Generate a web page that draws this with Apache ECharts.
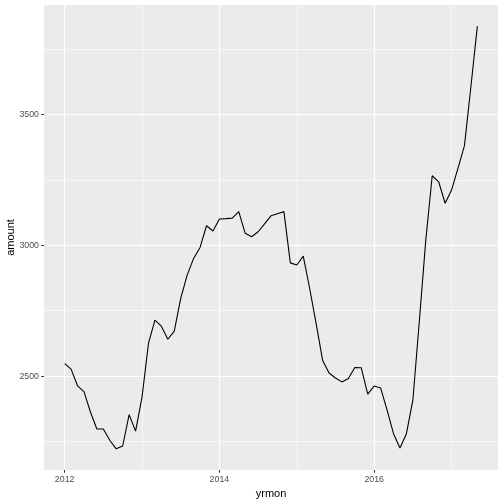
<!DOCTYPE html>
<html>
<head>
<meta charset="utf-8">
<script src="https://cdn.jsdelivr.net/npm/echarts@6/dist/echarts.min.js"></script>
<style>html,body{margin:0;padding:0;background:#fff}#c{width:504px;height:504px}</style>
</head>
<body>
<div id="c"></div>
<script>
// Months (yearmon) Jan 2012 .. May 2017
var months = [
 "2012-01","2012-02","2012-03","2012-04","2012-05","2012-06","2012-07","2012-08","2012-09","2012-10","2012-11","2012-12",
 "2013-01","2013-02","2013-03","2013-04","2013-05","2013-06","2013-07","2013-08","2013-09","2013-10","2013-11","2013-12",
 "2014-01","2014-02","2014-03","2014-04","2014-05","2014-06","2014-07","2014-08","2014-09","2014-10","2014-11","2014-12",
 "2015-01","2015-02","2015-03","2015-04","2015-05","2015-06","2015-07","2015-08","2015-09","2015-10","2015-11","2015-12",
 "2016-01","2016-02","2016-03","2016-04","2016-05","2016-06","2016-07","2016-08","2016-09","2016-10","2016-11","2016-12",
 "2017-01","2017-02","2017-03","2017-04","2017-05"
];
var amount = [
 2548,2527,2463,2441,2363,2298,2298,2255,2222,2233,2353,2290,
 2420,2625,2714,2691,2641,2672,2797,2886,2950,2992,3075,3055,
 3101,3102,3104,3129,3046,3033,3052,3082,3113,3121,3129,2933,
 2925,2959,2835,2701,2561,2512,2493,2478,2491,2533,2532,2431,
 2462,2455,2370,2280,2225,2280,2408,2710,3020,3266,3243,3161,
 3212,3295,3381,3607,3838
];
var xTicks = [2012, 2014, 2016];
var xMinor = [2013, 2015, 2017];
var yTicks = [2500, 3000, 3500];
var yMinor = [2250, 2750, 3250, 3750];

function toYear(s){ var p = s.split('-'); return +p[0] + (+p[1] - 1) / 12; }
var pts = months.map(function(m, i){ return [toYear(m), amount[i]]; });

var xs = pts.map(function(p){return p[0];});
var xLo = Math.min.apply(null, xs), xHi = Math.max.apply(null, xs);
var yLo = Math.min.apply(null, amount), yHi = Math.max.apply(null, amount);
var xPad = (xHi - xLo) * 0.05, yPad = (yHi - yLo) * 0.05;

var FONT = 'Liberation Sans, Arial, sans-serif';
var chart = echarts.init(document.getElementById('c'), null, {renderer: 'canvas'});
chart.setOption({
  animation: false,
  backgroundColor: '#ffffff',
  grid: {left: 44, right: 6, top: 5, bottom: 34, show: true, backgroundColor: '#EBEBEB', borderWidth: 0,
         containLabel: false, outerBoundsMode: 'none'},
  xAxis: {
    type: 'value', min: xLo - xPad, max: xHi + xPad,
    name: 'yrmon', nameLocation: 'middle', nameGap: 18, nameMoveOverlap: false,
    nameTextStyle: {color: '#000', fontSize: 11, fontFamily: FONT},
    axisLine: {show: false},
    splitLine: {show: false},
    axisTick: {show: true, customValues: xTicks, length: 2.75, lineStyle: {color: '#333333', width: 1.07}},
    axisLabel: {customValues: xTicks, margin: 5, color: '#4D4D4D', fontSize: 8.8, fontFamily: FONT,
      formatter: function(v){ return String(Math.round(v)); }}
  },
  yAxis: {
    type: 'value', min: yLo - yPad, max: yHi + yPad,
    name: 'amount', nameLocation: 'middle', nameGap: 28, nameMoveOverlap: false,
    nameTextStyle: {color: '#000', fontSize: 11, fontFamily: FONT},
    axisLine: {show: false},
    splitLine: {show: false},
    axisTick: {show: true, customValues: yTicks, length: 2.75, lineStyle: {color: '#333333', width: 1.07}},
    axisLabel: {customValues: yTicks, margin: 5, color: '#4D4D4D', fontSize: 8.8, fontFamily: FONT,
      formatter: function(v){ return String(Math.round(v)); }}
  },
  series: [
    {
      type: 'line', data: [], z: 1, silent: true,
      markLine: {
        silent: true, symbol: 'none', animation: false, label: {show: false},
        lineStyle: {color: '#ffffff', width: 0.6, type: 'solid'},
        emphasis: {disabled: true},
        data: xMinor.map(function(v){return {xAxis: v};}).concat(yMinor.map(function(v){return {yAxis: v};}))
      }
    },
    {
      type: 'line', data: [], z: 2, silent: true,
      markLine: {
        silent: true, symbol: 'none', animation: false, label: {show: false},
        lineStyle: {color: '#ffffff', width: 1.2, type: 'solid'},
        emphasis: {disabled: true},
        data: xTicks.map(function(v){return {xAxis: v};}).concat(yTicks.map(function(v){return {yAxis: v};}))
      }
    },
    {
      type: 'line', data: pts, z: 5, showSymbol: false, symbol: 'none', silent: true,
      lineStyle: {color: '#000000', width: 1.1},
      emphasis: {disabled: true}
    }
  ]
});
</script>
</body>
</html>
